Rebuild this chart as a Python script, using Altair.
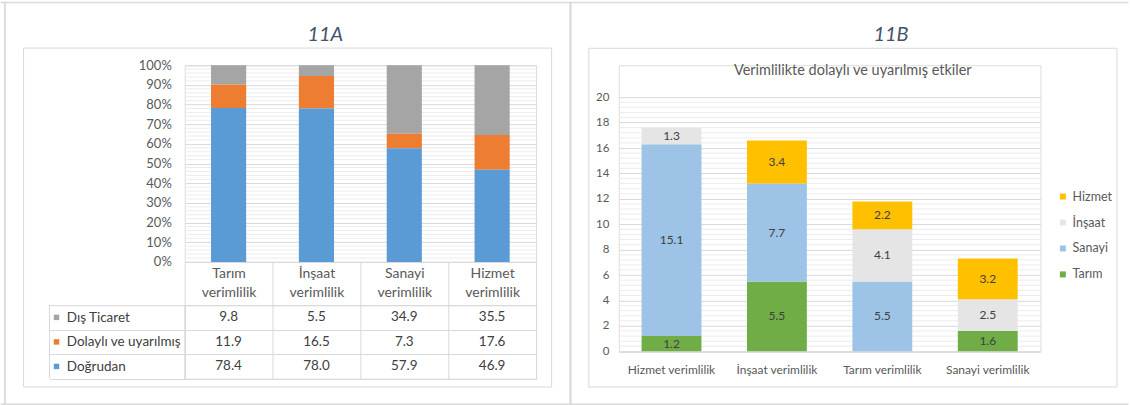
import altair as alt
import pandas as pd

FONT = "Lato"
GRID = "#d9d9d9"
MINOR = "#ececec"
FRAME = "#dadada"
INK = "#595959"
DARK = "#404040"

# ---------------- 11A: decomposition of productivity effects (%) ----------------
a_sectors = ["Tarım verimlilik", "İnşaat verimlilik", "Sanayi verimlilik", "Hizmet verimlilik"]
a_rows = ["Dış Ticaret", "Dolaylı ve uyarılmış", "Doğrudan"]      # table order, top to bottom
a_trade = [9.8, 5.5, 34.9, 35.5]
a_indirect = [11.9, 16.5, 7.3, 17.6]
a_direct = [78.4, 78.0, 57.9, 46.9]
a_colors = ["#A5A5A5", "#ED7D31", "#5B9BD5"]
a_stack_rank = [2, 1, 0]                                           # Doğrudan at the bottom

# ---------------- 11B: indirect and induced effects ----------------
b_sectors = ["Hizmet verimlilik", "İnşaat verimlilik", "Tarım verimlilik", "Sanayi verimlilik"]
b_sources = ["Tarım", "Sanayi", "İnşaat", "Hizmet"]               # stacking order, bottom to top
b_tarim = [1.2, 5.5, None, 1.6]
b_sanayi = [15.1, 7.7, 5.5, None]
b_insaat = [1.3, None, 4.1, 2.5]
b_hizmet = [None, 3.4, 2.2, 3.2]
b_colors = ["#70AD47", "#9DC3E6", "#E5E5E5", "#FFC000"]

a_records = []
for comp, vals, rank in zip(a_rows, [a_trade, a_indirect, a_direct], a_stack_rank):
    for sec, v in zip(a_sectors, vals):
        a_records.append({"sector": sec, "component": comp, "value": v, "ord": rank})
a_df = pd.DataFrame(a_records)

b_records = []
for rank, (src, vals) in enumerate(zip(b_sources, [b_tarim, b_sanayi, b_insaat, b_hizmet])):
    for sec, v in zip(b_sectors, vals):
        if v is not None:
            b_records.append({"sector": sec, "source": src, "value": v, "ord": rank})
b_df = pd.DataFrame(b_records)

# ---------------- layout (pixels) ----------------
A_W, A_H = 352, 197          # 11A plot area
T_HEAD, T_H = 43.3, 73.7     # table header height and body height
B_W, B_H = 422.4, 286.6      # 11B cell
B_TOP = 32                   # y of the 20 gridline inside the 11B cell
GAP = 82.9
AX, AY = 184.4, 63.7         # page position of the 11A plot origin
BX, BY = AX + A_W + GAP, AY  # page position of the 11B cell origin

one = alt.Data(values=[{"k": 1}])


def box(x1, y1, x2, y2, ox, oy, **mark):
    return alt.Chart(one).mark_rect(**mark).encode(
        x=alt.value(x1 - ox), x2=alt.value(x2 - ox),
        y=alt.value(y1 - oy), y2=alt.value(y2 - oy))


def label(text, x, y, ox, oy, **mark):
    return alt.Chart(one).mark_text(text=text, **mark).encode(
        x=alt.value(x - ox), y=alt.value(y - oy))


# page frame and panel boxes
frame = [
    box(0, 0, 1130, 405, AX, AY, fill="white", fillOpacity=0, strokeWidth=0),
    box(0, 0, 1130, 1.6, AX, AY, fill=FRAME),
    box(3.4, 0, 5.2, 405, AX, AY, fill=FRAME),
    box(569.8, 0, 572, 405, AX, AY, fill=FRAME),
    box(0, 402.6, 1130, 405, AX, AY, fill=FRAME),
    box(23, 46.5, 552, 386, AX, AY, fill="white", fillOpacity=0, stroke=GRID, strokeWidth=1),
    label("11A", 325.3, 33.5, AX, AY, font=FONT, fontSize=20, fontStyle="italic",
          color="#44546A", align="center", baseline="middle"),
]

# ---------------- 11A stacked 100% bars ----------------
a_major = [i / 10 for i in range(11)]
a_minor = [i / 50 for i in range(51) if i % 5]
a_yscale = alt.Scale(domain=[0, 1], nice=False)
a_yaxis = alt.Axis(values=a_major, format=".0%", title=None, domain=False, ticks=False,
                   grid=True, gridColor=GRID, labelFont=FONT, labelFontSize=13,
                   labelColor=INK, labelPadding=13.4)
a_x = alt.X("sector:N", sort=a_sectors,
            scale=alt.Scale(paddingInner=0.6, paddingOuter=0.3),
            axis=alt.Axis(labels=False, ticks=False, domain=True, domainColor=GRID,
                          title=None, grid=False))

a_minor_rules = alt.Chart(pd.DataFrame({"v": a_minor})).mark_rule(
    color=MINOR, strokeWidth=1).encode(
    y=alt.Y("v:Q", scale=a_yscale, axis=a_yaxis),
    x=alt.value(0), x2=alt.value(A_W))

a_bars = alt.Chart(a_df).mark_bar().encode(
    x=a_x,
    y=alt.Y("value:Q", stack="normalize", scale=a_yscale, axis=a_yaxis),
    color=alt.Color("component:N", scale=alt.Scale(domain=a_rows, range=a_colors), legend=None),
    order=alt.Order("ord:Q"),
)

a_chart = alt.layer(*frame, a_minor_rules, a_bars).properties(width=A_W, height=A_H)

# ---------------- 11A data table ----------------
t_x = alt.X("sector:N", sort=a_sectors,
            scale=alt.Scale(paddingInner=0, paddingOuter=0),
            axis=alt.Axis(orient="top", title=None, tickBand="extent", tickSize=T_HEAD,
                          tickColor=GRID, domainColor=GRID, grid=True, gridColor=GRID,
                          labelExpr="split(datum.label, ' ')", labelAngle=0,
                          labelBaseline="middle", labelLineHeight=19.4,
                          labelPadding=-11.6, labelFont=FONT, labelFontSize=14,
                          labelColor=INK))
t_yaxis = alt.Axis(title=None, tickBand="extent", tickSize=135.4, tickColor=GRID,
                   domainColor=GRID, grid=True, gridColor=GRID, labelAlign="left",
                   labelBaseline="middle", labelPadding=-16.8, labelFont=FONT,
                   labelFontSize=13.5, labelColor=DARK)
t_y = alt.Y("component:N", sort=a_rows,
            scale=alt.Scale(paddingInner=0, paddingOuter=0), axis=t_yaxis)

t_values = alt.Chart(a_df).mark_text(font=FONT, fontSize=13.5, color=DARK).encode(
    x=t_x, y=t_y, text=alt.Text("value:Q", format=".1f"))

t_keys = alt.Chart(pd.DataFrame({"component": a_rows})).mark_square(
    size=30, opacity=1).encode(
    y=t_y, x=alt.value(-128.4),
    color=alt.Color("component:N", scale=alt.Scale(domain=a_rows, range=a_colors), legend=None))

t_edge = alt.Chart(one).mark_rule(color=GRID).encode(
    x=alt.value(-135.4), y=alt.value(0), y2=alt.value(T_H))

t_chart = alt.layer(t_values, t_keys, t_edge).properties(width=A_W, height=T_H)

left = alt.vconcat(a_chart, t_chart, spacing=T_HEAD, bounds="flush").resolve_scale(
    x="independent", y="independent", color="independent")

# ---------------- 11B stacked bars ----------------
b_major = list(range(0, 21, 2))
b_minor = [round(i * 0.4, 1) for i in range(51) if i % 5]
b_yscale = alt.Scale(domain=[0, 20], range=[B_H, B_TOP], nice=False)
b_yaxis = alt.Axis(values=b_major, title=None, domain=False, ticks=False, grid=True,
                   gridColor=GRID, labelFont=FONT, labelFontSize=11.5, labelColor=INK,
                   labelPadding=10)
b_x = alt.X("sector:N", sort=b_sectors,
            scale=alt.Scale(paddingInner=0.432, paddingOuter=0.216),
            axis=alt.Axis(title=None, ticks=False, domainColor=GRID, labelAngle=0,
                          labelFont=FONT, labelFontSize=12, labelColor=INK,
                          labelPadding=13))

b_frame = [
    box(589.3, 46.7, 1118.3, 386, BX, BY, fill="white", fillOpacity=0, stroke=GRID, strokeWidth=1),
    label("11B", 892, 33.5, BX, BY, font=FONT, fontSize=20, fontStyle="italic",
          color="#44546A", align="center", baseline="middle"),
    label("Verimlilikte dolaylı ve uyarılmış etkiler", 853.7, 69, BX, BY, font=FONT,
          fontSize=14.5, color=INK, align="center", baseline="middle"),
]

b_minor_rules = alt.Chart(pd.DataFrame({"v": b_minor})).mark_rule(
    color=MINOR, strokeWidth=1).encode(
    y=alt.Y("v:Q", scale=b_yscale, axis=b_yaxis),
    x=alt.value(0), x2=alt.value(B_W))

b_bars = alt.Chart(b_df).mark_bar().encode(
    x=b_x,
    y=alt.Y("value:Q", stack="zero", scale=b_yscale, axis=b_yaxis),
    color=alt.Color("source:N", scale=alt.Scale(domain=b_sources, range=b_colors),
                    legend=alt.Legend(title=None, orient="none", legendX=438.6, legendY=125.3,
                                      values=list(reversed(b_sources)), symbolType="square",
                                      symbolSize=36, symbolStrokeWidth=0, labelFont=FONT,
                                      labelFontSize=12.5, labelColor=INK, rowPadding=13,
                                      labelOffset=3.5)),
    order=alt.Order("ord:Q"),
)

b_labels = alt.Chart(b_df).transform_stack(
    stack="value", groupby=["sector"], sort=[alt.SortField("ord", order="ascending")],
    as_=["y0", "y1"],
).transform_calculate(mid="(datum.y0 + datum.y1) / 2").mark_text(
    font=FONT, fontSize=12, color=DARK).encode(
    x=b_x,
    y=alt.Y("mid:Q", scale=b_yscale, axis=b_yaxis),
    text=alt.Text("value:Q", format=".1f"),
)

right = alt.layer(*b_frame, b_minor_rules, b_bars, b_labels).properties(width=B_W, height=B_H)

# The nested vconcat column reports no width under flush bounds, so the
# spacing carries the full offset from the 11A plot origin to the 11B cell.
chart = alt.hconcat(left, right, spacing=A_W + GAP, bounds="flush").resolve_scale(
    x="independent", y="independent", color="independent"
).properties(padding=0).configure_view(stroke=None).configure(font=FONT)

chart.save("out.html", embed_options={"renderer": "svg", "actions": False})
